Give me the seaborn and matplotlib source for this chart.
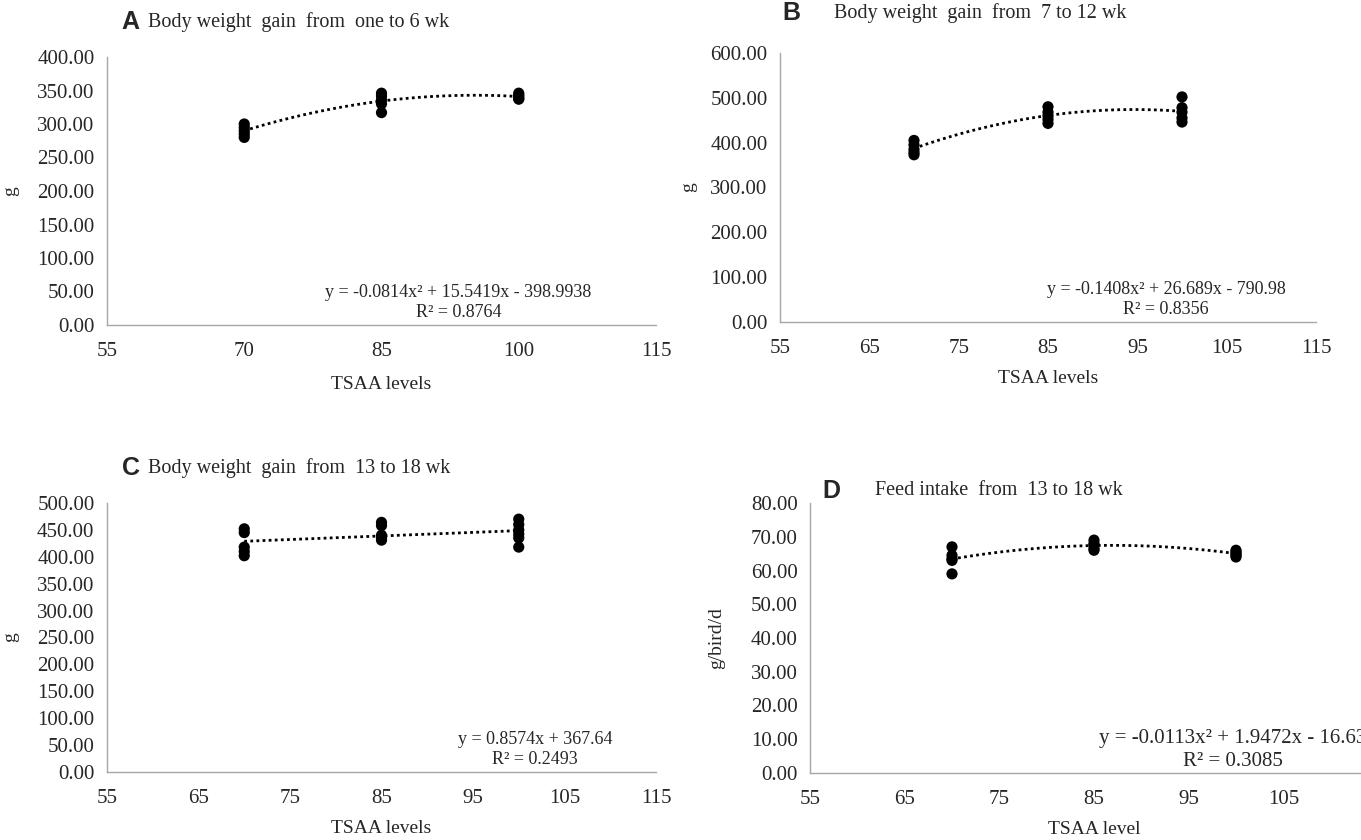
import numpy as np
import pandas as pd
import seaborn as sns
import matplotlib.pyplot as plt

tsaa_a = [70, 70, 70, 70, 70, 85, 85, 85, 85, 85, 100, 100, 100, 100, 100]
gain_a = [300, 295, 290, 285, 280, 346, 342, 336, 330, 317, 346, 343, 341, 338, 337]

tsaa_b = [70, 70, 70, 70, 70, 85, 85, 85, 85, 85, 100, 100, 100, 100, 100]
gain_b = [405, 395, 385, 378, 373, 480, 468, 460, 452, 443, 502, 478, 468, 455, 446]

tsaa_c = [70, 70, 70, 70, 70, 85, 85, 85, 85, 85, 100, 100, 100, 100, 100, 100]
gain_c = [452, 445, 418, 410, 402, 464, 458, 440, 435, 431, 470, 460, 450, 442, 435, 418]

tsaa_d = [70, 70, 70, 70, 70, 85, 85, 85, 85, 85, 100, 100, 100, 100, 100]
intake_d = [67, 64.5, 63.5, 63, 59, 69, 68, 67.5, 66.5, 66, 66, 65.5, 65, 64.5, 64]

panels = [
    dict(letter='A', title='Body weight  gain  from  one to 6 wk', x=tsaa_a, y=gain_a,
         order=2, ylim=400, ystep=50, xticks=[55, 70, 85, 100, 115], ylabel='g',
         xlabel='TSAA levels', eq='y = -0.0814x\u00b2 + 15.5419x - 398.9938', r2='R\u00b2 = 0.8764',
         rect=[107, 57, 656, 325], eqx=0.64, eqfs=13, letx=0.027, titx=0.075, ty=1.13,
         ylx=-0.16, xly=-0.19),
    dict(letter='B', title='Body weight  gain  from  7 to 12 wk', x=tsaa_b, y=gain_b,
         order=2, ylim=600, ystep=100, xticks=[55, 65, 75, 85, 95, 105, 115], ylabel='g',
         xlabel='TSAA levels', eq='y = -0.1408x\u00b2 + 26.689x - 790.98', r2='R\u00b2 = 0.8356',
         rect=[780, 53, 1316, 322], eqx=0.72, eqfs=13, letx=0.004, titx=0.1, ty=1.15,
         ylx=-0.155, xly=-0.178),
    dict(letter='C', title='Body weight  gain  from  13 to 18 wk', x=tsaa_c, y=gain_c,
         order=1, ylim=500, ystep=50, xticks=[55, 65, 75, 85, 95, 105, 115], ylabel='g',
         xlabel='TSAA levels', eq='y = 0.8574x + 367.64', r2='R\u00b2 = 0.2493',
         rect=[107, 503, 656, 772], eqx=0.78, eqfs=13, letx=0.027, titx=0.075, ty=1.13,
         ylx=-0.16, xly=-0.178),
    dict(letter='D', title='Feed intake  from  13 to 18 wk', x=tsaa_d, y=intake_d,
         order=2, ylim=80, ystep=10, xticks=[55, 65, 75, 85, 95, 105], ylabel='g/bird/d',
         xlabel='TSAA level', eq='y = -0.0113x\u00b2 + 1.9472x - 16.63', r2='R\u00b2 = 0.3085',
         rect=[810, 503, 1378, 773], eqx=0.745, eqfs=15, letx=0.021, titx=0.114, ty=1.045,
         ylx=-0.15, xly=-0.178),
]

sns.set_theme(style='white')
plt.rcParams['font.family'] = ['Liberation Serif', 'DejaVu Serif']

W, H = 1361, 840
fig = plt.figure(figsize=(W / 100, H / 100), dpi=100)

for p in panels:
    x0, y0, x1, y1 = p['rect']
    ax = fig.add_axes([x0 / W, 1 - y1 / H, (x1 - x0) / W, (y1 - y0) / H])
    df = pd.DataFrame({'tsaa': p['x'], 'val': p['y']})
    sns.regplot(data=df, x='tsaa', y='val', order=p['order'], ci=None, ax=ax,
                scatter_kws=dict(s=65, color='black', edgecolor='none', alpha=1),
                line_kws=dict(color='black', ls=(0, (1, 1.2)), lw=2))
    ax.set_xlim(55, 115)
    ax.set_ylim(0, p['ylim'])
    ax.set_xticks(p['xticks'])
    ax.set_yticks(np.arange(0, p['ylim'] + p['ystep'] / 2, p['ystep']))
    ax.set_yticklabels([f'{v:.2f}' for v in ax.get_yticks()])
    ax.tick_params(length=0, labelsize=15)
    ax.tick_params(axis='x', pad=12)
    ax.tick_params(axis='y', pad=9)
    for side in ['top', 'right']:
        ax.spines[side].set_visible(False)
    for side in ['left', 'bottom']:
        ax.spines[side].set_color('#a6a6a6')
        ax.spines[side].set_linewidth(1)
    ax.set_xlabel(p['xlabel'], fontsize=14)
    ax.xaxis.set_label_coords(0.5, p['xly'])
    ax.set_ylabel(p['ylabel'], fontsize=14)
    ax.yaxis.set_label_coords(p['ylx'], 0.5)
    ax.text(p['eqx'], 0.085, p['eq'] + '\n' + p['r2'], transform=ax.transAxes,
            ha='center', va='center', fontsize=p['eqfs'], linespacing=1.25,
            multialignment='center')
    ax.text(p['letx'], p['ty'], p['letter'], transform=ax.transAxes,
            fontsize=18, fontweight='bold', family='Liberation Sans', ha='left', va='center')
    ax.text(p['titx'], p['ty'], p['title'], transform=ax.transAxes,
            fontsize=14.5, ha='left', va='center')

fig.savefig('out.png', dpi=100)
